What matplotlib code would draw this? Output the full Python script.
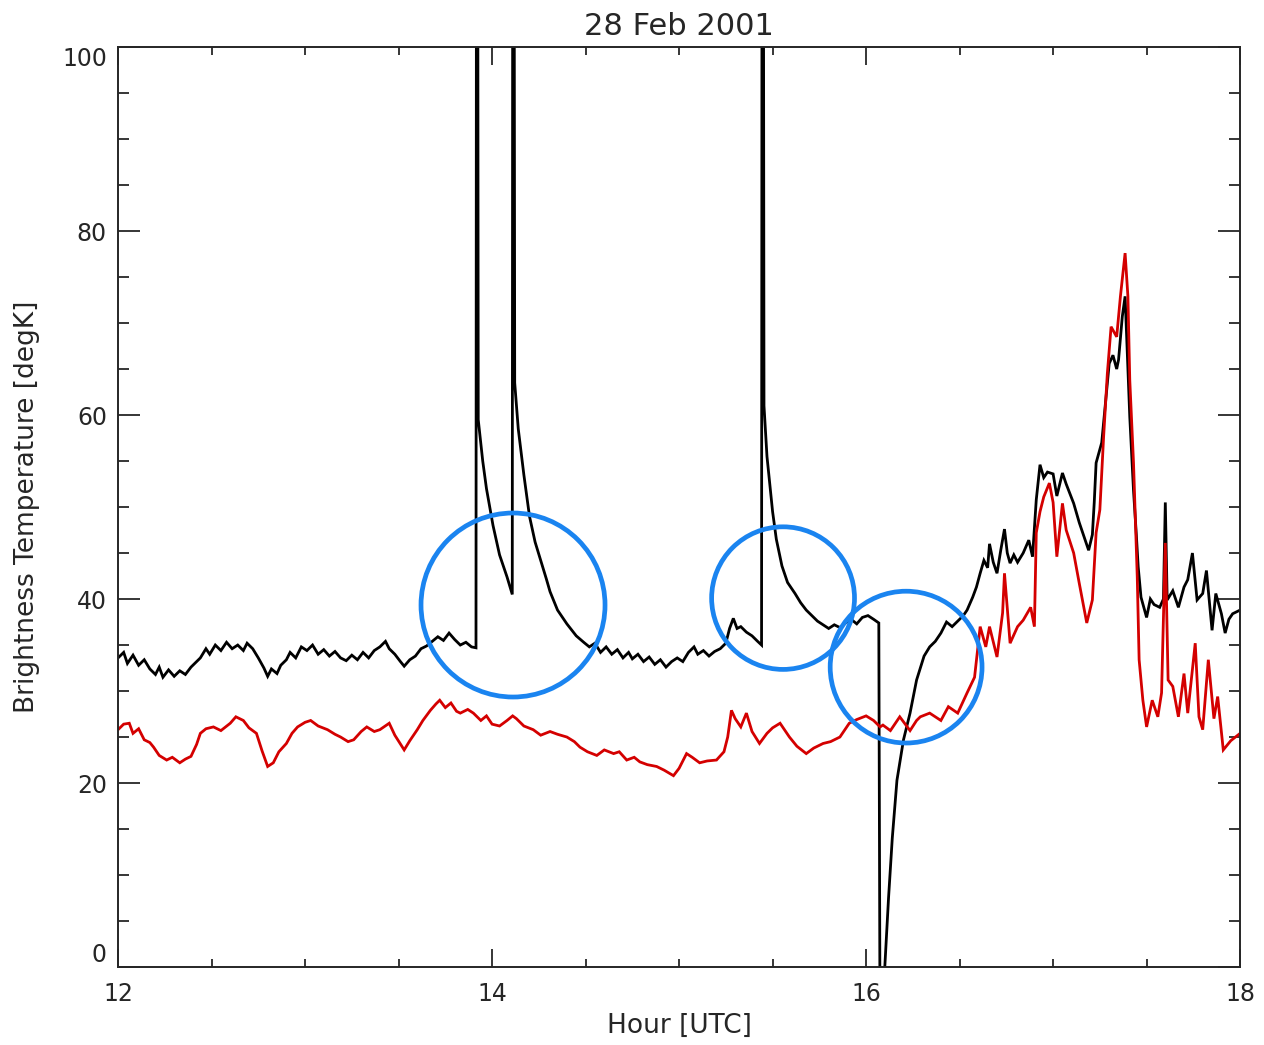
"""Brightness temperature record for 28 Feb 2001, 12-18 UTC.

Two receiver channels (black and red) on one panel, with blue rings
marking the intervals of interest around the calibration spikes.
"""
import matplotlib
matplotlib.use("Agg")
import matplotlib.pyplot as plt
from matplotlib.patches import Ellipse
from matplotlib.ticker import MultipleLocator

TITLE = "28 Feb 2001"
XLABEL = "Hour [UTC]"
YLABEL = "Brightness Temperature [degK]"

# channel 1 (black): hour, degK
hour_k = [
    12.00, 12.03, 12.05, 12.08, 12.11, 12.14, 12.17, 12.20, 12.22, 12.24,
    12.27, 12.30, 12.33, 12.36, 12.39, 12.42, 12.44, 12.47, 12.49, 12.52,
    12.55, 12.58, 12.61, 12.64, 12.67, 12.69, 12.72, 12.75, 12.78, 12.80,
    12.82, 12.85, 12.87, 12.90, 12.92, 12.95, 12.98, 13.01, 13.04, 13.07,
    13.10, 13.13, 13.16, 13.19, 13.22, 13.25, 13.28, 13.31, 13.34, 13.37,
    13.40, 13.43, 13.45, 13.48, 13.51, 13.53, 13.56, 13.59, 13.62, 13.65,
    13.68, 13.71, 13.74, 13.77, 13.80, 13.83, 13.86, 13.89, 13.914, 13.919,
    13.926, 13.95, 13.97, 14.005, 14.04, 14.08, 14.108, 14.113, 14.121, 14.14,
    14.17, 14.20, 14.23, 14.26, 14.29, 14.31, 14.35, 14.40, 14.45, 14.49,
    14.52, 14.55, 14.58, 14.61, 14.64, 14.67, 14.70, 14.73, 14.75, 14.78,
    14.81, 14.84, 14.87, 14.90, 14.93, 14.96, 14.99, 15.02, 15.05, 15.08,
    15.10, 15.13, 15.16, 15.19, 15.22, 15.25, 15.27, 15.29, 15.31, 15.33,
    15.36, 15.39, 15.42, 15.441, 15.446, 15.454, 15.47, 15.50, 15.52, 15.55,
    15.58, 15.62, 15.65, 15.68, 15.71, 15.74, 15.77, 15.80, 15.83, 15.86,
    15.89, 15.92, 15.95, 15.98, 16.01, 16.04, 16.068, 16.078, 16.090, 16.100,
    16.12, 16.14, 16.165, 16.20, 16.235, 16.27, 16.31, 16.34, 16.37, 16.40,
    16.43, 16.46, 16.49, 16.52, 16.54, 16.57, 16.59, 16.61, 16.63, 16.65,
    16.66, 16.68, 16.70, 16.72, 16.74, 16.755, 16.77, 16.79, 16.81, 16.84,
    16.87, 16.89, 16.91, 16.93, 16.95, 16.97, 17.00, 17.02, 17.05, 17.07,
    17.11, 17.14, 17.17, 17.19, 17.21, 17.22, 17.23, 17.26, 17.28, 17.30,
    17.32, 17.34, 17.35, 17.37, 17.385, 17.40, 17.41, 17.43, 17.445, 17.455,
    17.47, 17.50, 17.52, 17.54, 17.57, 17.59, 17.60, 17.61, 17.64, 17.67,
    17.70, 17.72, 17.745, 17.77, 17.80, 17.82, 17.85, 17.87, 17.90, 17.92,
    17.94, 17.96, 18.00,
]
temp_k = [
    33.6, 34.2, 33.0, 33.9, 32.8, 33.4, 32.4, 31.8, 32.6, 31.5,
    32.3, 31.6, 32.2, 31.8, 32.6, 33.2, 33.6, 34.6, 34.0, 35.0,
    34.4, 35.3, 34.6, 35.0, 34.4, 35.2, 34.6, 33.6, 32.5, 31.6,
    32.4, 31.9, 32.8, 33.4, 34.2, 33.6, 34.8, 34.4, 35.0, 34.0,
    34.5, 33.8, 34.3, 33.6, 33.3, 33.9, 33.4, 34.2, 33.6, 34.4,
    34.8, 35.4, 34.6, 34.0, 33.2, 32.7, 33.4, 33.8, 34.6, 34.9,
    35.4, 35.9, 35.5, 36.3, 35.6, 35.0, 35.3, 34.8, 34.7, 200.0,
    59.5, 55.0, 52.0, 48.0, 44.8, 42.4, 40.5, 200.0, 63.5, 58.5,
    53.5, 49.0, 46.2, 44.2, 42.2, 40.8, 38.8, 37.3, 36.0, 35.3,
    34.8, 35.2, 34.2, 34.8, 34.0, 34.5, 33.6, 34.2, 33.5, 34.0,
    33.2, 33.7, 32.9, 33.4, 32.6, 33.2, 33.6, 33.2, 34.2, 34.8,
    34.0, 34.4, 33.8, 34.3, 34.6, 35.2, 36.8, 37.9, 36.8, 37.0,
    36.4, 36.0, 35.4, 35.0, 200.0, 61.0, 55.5, 49.5, 46.5, 43.6,
    41.8, 40.6, 39.6, 38.8, 38.2, 37.6, 37.2, 36.8, 37.2, 36.9,
    37.4, 37.8, 37.3, 38.0, 38.2, 37.8, 37.4, -30.0, -10.0, 0.0,
    7.5, 14.0, 20.3, 24.7, 27.6, 31.2, 33.8, 34.8, 35.4, 36.3,
    37.5, 37.0, 37.6, 38.2, 38.8, 40.2, 41.3, 42.8, 44.2, 43.4,
    46.0, 44.0, 42.8, 45.3, 47.6, 45.0, 43.9, 44.8, 44.0, 45.0,
    46.4, 44.6, 50.8, 54.6, 53.2, 53.8, 53.6, 51.2, 53.7, 52.5,
    50.4, 48.3, 46.5, 45.3, 47.0, 50.5, 54.8, 57.0, 61.3, 65.6,
    66.5, 65.0, 66.0, 70.7, 72.9, 65.0, 59.8, 51.8, 47.0, 43.5,
    40.2, 38.0, 40.0, 39.4, 39.1, 40.0, 50.5, 39.9, 40.9, 39.1,
    41.3, 42.1, 45.0, 39.9, 40.6, 43.1, 36.6, 40.6, 38.4, 36.3,
    37.8, 38.4, 38.8,
]

# channel 2 (red): hour, degK
hour_r = [
    12.00, 12.03, 12.06, 12.08, 12.11, 12.14, 12.17, 12.19, 12.22, 12.26,
    12.29, 12.33, 12.36, 12.39, 12.42, 12.44, 12.47, 12.51, 12.55, 12.60,
    12.63, 12.67, 12.70, 12.74, 12.77, 12.80, 12.83, 12.86, 12.90, 12.93,
    12.96, 13.00, 13.03, 13.07, 13.12, 13.16, 13.19, 13.23, 13.26, 13.30,
    13.33, 13.37, 13.40, 13.45, 13.48, 13.53, 13.56, 13.60, 13.63, 13.67,
    13.70, 13.72, 13.75, 13.78, 13.81, 13.83, 13.87, 13.90, 13.94, 13.97,
    14.00, 14.04, 14.08, 14.11, 14.13, 14.17, 14.22, 14.26, 14.31, 14.35,
    14.40, 14.44, 14.47, 14.51, 14.56, 14.60, 14.65, 14.68, 14.72, 14.76,
    14.79, 14.83, 14.88, 14.92, 14.97, 15.00, 15.04, 15.07, 15.11, 15.15,
    15.20, 15.24, 15.26, 15.28, 15.30, 15.33, 15.36, 15.39, 15.43, 15.47,
    15.50, 15.54, 15.59, 15.63, 15.68, 15.72, 15.77, 15.81, 15.86, 15.91,
    15.95, 16.00, 16.04, 16.075, 16.09, 16.13, 16.18, 16.235, 16.27, 16.29,
    16.34, 16.40, 16.44, 16.49, 16.54, 16.58, 16.61, 16.64, 16.66, 16.70,
    16.73, 16.74, 16.77, 16.81, 16.84, 16.88, 16.90, 16.91, 16.93, 16.95,
    16.98, 17.00, 17.02, 17.05, 17.07, 17.11, 17.14, 17.18, 17.21, 17.23,
    17.25, 17.27, 17.29, 17.31, 17.34, 17.36, 17.385, 17.40, 17.41, 17.43,
    17.45, 17.46, 17.48, 17.50, 17.53, 17.56, 17.58, 17.60, 17.615, 17.64,
    17.67, 17.70, 17.72, 17.76, 17.78, 17.80, 17.83, 17.86, 17.88, 17.91,
    17.95, 18.00,
]
temp_r = [
    25.8, 26.4, 26.5, 25.4, 25.9, 24.7, 24.4, 23.9, 23.0, 22.5,
    22.8, 22.2, 22.6, 22.9, 24.2, 25.4, 25.9, 26.1, 25.7, 26.5,
    27.2, 26.8, 26.0, 25.4, 23.5, 21.8, 22.2, 23.4, 24.3, 25.4,
    26.1, 26.6, 26.8, 26.2, 25.8, 25.3, 25.0, 24.5, 24.7, 25.6,
    26.1, 25.6, 25.8, 26.5, 25.2, 23.6, 24.6, 25.8, 26.8, 27.9,
    28.6, 29.0, 28.2, 28.7, 27.8, 27.6, 28.0, 27.6, 26.8, 27.3,
    26.4, 26.2, 26.8, 27.3, 27.0, 26.2, 25.8, 25.2, 25.6, 25.3,
    25.0, 24.5, 23.9, 23.4, 23.0, 23.6, 23.2, 23.4, 22.5, 22.8,
    22.3, 22.0, 21.8, 21.4, 20.8, 21.6, 23.2, 22.8, 22.2, 22.4,
    22.5, 23.4, 25.0, 27.9, 27.0, 26.1, 27.6, 25.6, 24.3, 25.4,
    26.0, 26.5, 25.0, 24.0, 23.2, 23.8, 24.3, 24.5, 25.0, 26.5,
    26.9, 27.3, 26.8, 26.1, 26.3, 25.7, 27.2, 25.7, 26.8, 27.2,
    27.6, 26.8, 28.3, 27.6, 29.8, 31.5, 37.0, 34.8, 37.0, 33.7,
    38.5, 42.8, 35.2, 37.0, 37.7, 39.1, 37.0, 47.2, 49.5, 51.1,
    52.6, 50.5, 44.6, 50.4, 47.5, 45.0, 41.7, 37.4, 39.9, 47.2,
    49.7, 57.6, 64.5, 69.6, 68.5, 72.9, 77.6, 72.9, 63.8, 54.8,
    42.4, 33.4, 29.0, 26.1, 29.0, 27.2, 29.8, 46.1, 31.2, 30.5,
    27.2, 31.9, 27.6, 35.2, 27.2, 25.8, 33.4, 27.0, 29.4, 23.6,
    24.6, 25.4,
]

# rings: centre hour, centre degK, full width (h), full height (degK)
ring_hour = [14.112, 15.556, 16.214]
ring_temp = [39.35, 40.1, 32.6]
ring_w = [0.984, 0.764, 0.812]
ring_h = [20.0, 15.5, 16.5]

RING_COLOR = "#1a84f0"
RED = "#d40000"
TEXT_COLOR = "#262626"


def main():
    plt.rcParams["font.family"] = ["DejaVu Sans"]
    fig = plt.figure(figsize=(12.64, 10.45), dpi=100)
    ax = fig.add_axes([0.0934, 0.0746, 0.8877, 0.8804])

    ax.plot(hour_k, temp_k, color="black", lw=2.0, solid_joinstyle="miter")
    ax.plot(hour_r, temp_r, color=RED, lw=2.0, solid_joinstyle="miter")

    for hx, ty, w, h in zip(ring_hour, ring_temp, ring_w, ring_h):
        ax.add_patch(Ellipse((hx, ty), w, h, fill=False,
                             edgecolor=RING_COLOR, lw=3.4, zorder=5))

    ax.set_xlim(12, 18)
    ax.set_ylim(0, 100)
    ax.set_xticks([12, 14, 16, 18])
    ax.set_yticks([0, 20, 40, 60, 80, 100])
    ax.xaxis.set_minor_locator(MultipleLocator(0.5))
    ax.yaxis.set_minor_locator(MultipleLocator(5))

    ax.tick_params(axis="both", which="both", direction="in",
                   top=True, right=True, colors=TEXT_COLOR,
                   labelsize=17, width=1.3)
    ax.tick_params(axis="x", which="major", length=13, pad=11)
    ax.tick_params(axis="x", which="minor", length=6)
    ax.tick_params(axis="y", which="major", length=16, pad=8)
    ax.tick_params(axis="y", which="minor", length=8)
    for side in ax.spines.values():
        side.set_linewidth(1.4)
        side.set_color(TEXT_COLOR)

    # IDL-style: end labels on the y axis sit inside the plot range
    yticks = ax.yaxis.get_major_ticks()
    yticks[0].label1.set_verticalalignment("bottom")
    yticks[-1].label1.set_verticalalignment("top")

    ax.set_title(TITLE, fontsize=22, color=TEXT_COLOR, pad=9)
    ax.set_xlabel(XLABEL, fontsize=19, color=TEXT_COLOR, labelpad=5)
    ax.set_ylabel(YLABEL, fontsize=19, color=TEXT_COLOR, labelpad=16)

    fig.savefig("out.png", dpi=100)
    plt.close(fig)


if __name__ == "__main__":
    main()
